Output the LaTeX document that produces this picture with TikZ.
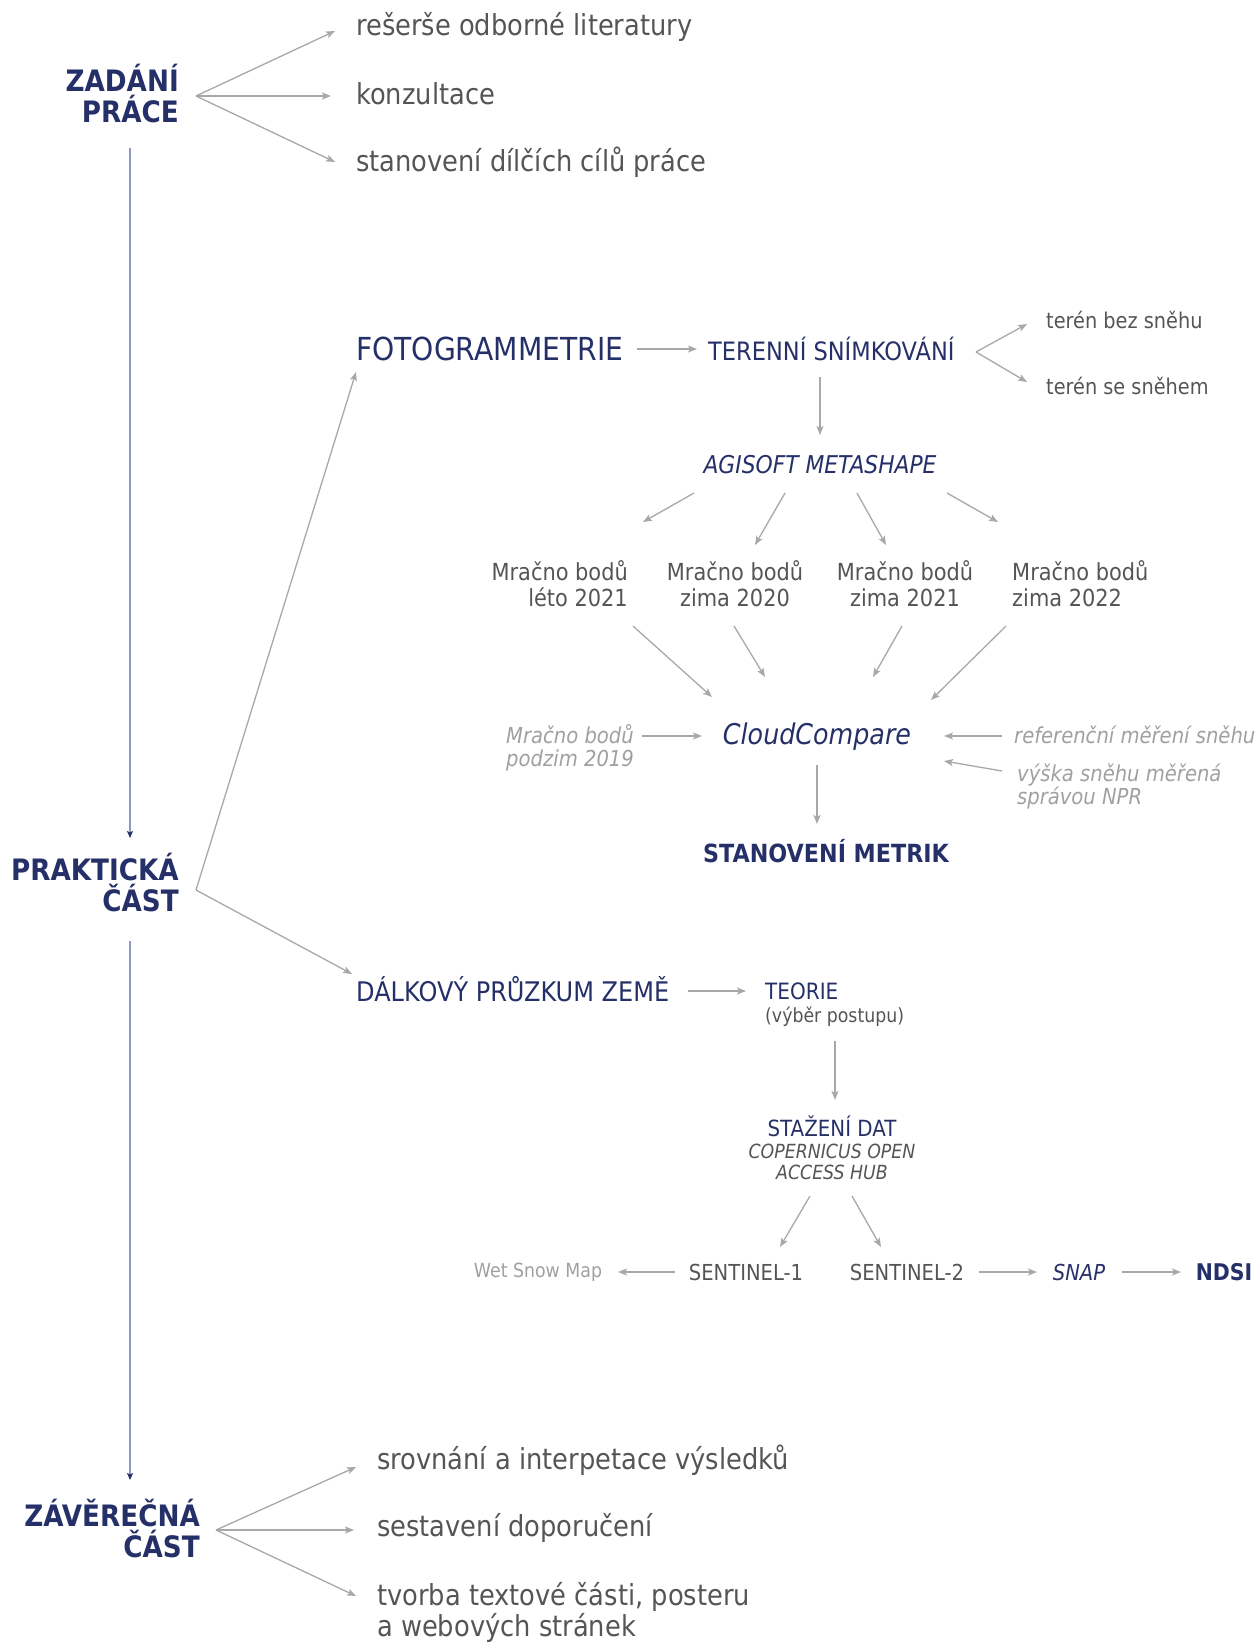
\documentclass[tikz,border=0pt]{standalone}
\usepackage{fontspec}
\setmainfont{DejaVu Sans}[FakeStretch=0.89]
\usetikzlibrary{arrows.meta}

\definecolor{navy}{RGB}{38,48,104}
\definecolor{txtgray}{RGB}{85,85,85}
\definecolor{softgray}{RGB}{160,160,160}
\definecolor{arrgray}{RGB}{168,168,168}
\definecolor{flowblue}{RGB}{140,152,190}

\newcommand{\fsz}[2]{\fontsize{#1}{#2}\selectfont}

\begin{document}
\begin{tikzpicture}[x=1pt, y=-1pt,
    every node/.style={inner sep=0pt},
    phase/.style={font=\bfseries\fsz{29.5}{31}, text=navy, align=right, anchor=east},
    task/.style={font=\fsz{28.9}{31}, text=txtgray, align=left, anchor=west},
    method/.style={text=navy, anchor=west},
    cloud/.style={font=\fsz{23.5}{26}, text=txtgray},
    extra/.style={font=\itshape\fsz{22}{23}, text=softgray, align=left, anchor=west},
    sat/.style={font=\fsz{22}{24}, text=txtgray},
    arr/.style={draw=arrgray, line width=1.3pt, -{Stealth[length=9pt,width=7pt,inset=2pt]}},
    flow/.style={draw=flowblue, line width=1.3pt, -{Stealth[length=7pt,width=6pt,inset=1.5pt,color=navy]}}]
    \useasboundingbox (0,0) rectangle (1256,1642);

    % Phases
    \node[phase] (zadani) at (179,94) {ZADÁNÍ\\PRÁCE};
    \node[phase] (praktika) at (179,883) {PRAKTICKÁ\\ČÁST};
    \node[phase] (zaverec) at (200,1529) {ZÁVĚREČNÁ\\ČÁST};

    % Zadani
    \node[task] (reserse) at (356,27) {rešerše odborné literatury};
    \node[task] (konzult) at (356,94) {konzultace};
    \node[task] (stanov) at (356,162) {stanovení dílčích cílů práce};

    % Fotogrammetrie
    \node[method, font=\fsz{31.7}{34}] (foto) at (356,349) {FOTOGRAMMETRIE};
    \node[method, font=\fsz{25.3}{27}] (terenni) at (708,349) {TERENNÍ SNÍMKOVÁNÍ};
    \node[task, font=\fsz{21.7}{24}] (bezsnehu) at (1046,320) {terén bez sněhu};
    \node[task, font=\fsz{21.7}{24}] (sesnehem) at (1046,386) {terén se sněhem};
    \node[text=navy, font=\itshape\fsz{24.5}{26}] (agisoft) at (820,465) {AGISOFT METASHAPE};
    \node[cloud, align=right, anchor=east] (leto21) at (628,584) {Mračno bodů\\léto 2021};
    \node[cloud, align=center] (zima20) at (735,584) {Mračno bodů\\zima 2020};
    \node[cloud, align=center] (zima21) at (905,584) {Mračno bodů\\zima 2021};
    \node[cloud, align=left, anchor=west] (zima22) at (1012,584) {Mračno bodů\\zima 2022};
    \node[text=navy, font=\itshape\fsz{28.5}{30}] (cc) at (817,737) {CloudCompare};
    \node[extra] (podzim) at (506,748) {Mračno bodů\\podzim 2019};
    \node[extra] (refmer) at (1014,735) {referenční měření sněhu};
    \node[extra] (vyska) at (1017,786) {výška sněhu měřená\\správou NPR};
    \node[text=navy, font=\bfseries\fsz{25}{27}] (metrik) at (826,851) {STANOVENÍ METRIK};

    % Dalkovy pruzkum
    \node[method, font=\fsz{27}{30}] (dalkovy) at (356,989) {DÁLKOVÝ PRŮZKUM ZEMĚ};
    \node[method, font=\fsz{22.5}{23}, align=left] (teorie) at (765,1005)
        {TEORIE\\{\color{txtgray}\fsz{19.5}{23}(výběr postupu)}};
    \node[text=navy, font=\fsz{22.3}{21.5}, align=center] (stazeni) at (832,1148)
        {STAŽENÍ DAT\\{\itshape\color{txtgray}\fsz{19.5}{21.5}COPERNICUS OPEN}\\{\itshape\color{txtgray}\fsz{19.5}{21.5}ACCESS HUB}};
    \node[sat] (s1) at (746,1272) {SENTINEL-1};
    \node[sat] (s2) at (907,1272) {SENTINEL-2};
    \node[font=\fsz{19.5}{22}, text=softgray] (wetsnow) at (538,1272) {Wet Snow Map};
    \node[text=navy, font=\itshape\fsz{22}{24}] (snap) at (1079,1272) {SNAP};
    \node[text=navy, font=\bfseries\fsz{23}{25}] (ndsi) at (1224,1272) {NDSI};

    % Zaverecna cast
    \node[task] (srovnani) at (377,1460) {srovnání a interpetace výsledků};
    \node[task] (sestaveni) at (377,1528) {sestavení doporučení};
    \node[task] (tvorba) at (377,1612) {tvorba textové části, posteru\\a webových stránek};

    % Fan points
    \coordinate (zfan) at (196,96);
    \coordinate (pfan) at (196,890);
    \coordinate (tfan) at (976,352);
    \coordinate (zvfan) at (216,1530);

    % Main flow
    \draw[flow] ([shift={(-49,54)}]zadani.east) -- ([shift={(-49,-45)}]praktika.east);
    \draw[flow] ([shift={(-49,58)}]praktika.east) -- ([shift={(-70,-49)}]zaverec.east);

    % Arrows
    \draw[arr] (zfan) -- ([shift={(-21,4)}]reserse.west);
    \draw[arr] (zfan) -- ([shift={(-25,2)}]konzult.west);
    \draw[arr] (zfan) -- ([shift={(-21,0)}]stanov.west);

    \draw[arr] (pfan) -- ([shift={(0,23)}]foto.west);
    \draw[arr] (pfan) -- ([shift={(-4,-15)}]dalkovy.west);

    \draw[arr] ([shift={(281,0)}]foto.west) -- ([shift={(-11,0)}]terenni.west);
    \draw[arr] (tfan) -- ([shift={(-19,4)}]bezsnehu.west);
    \draw[arr] (tfan) -- ([shift={(-19,-4)}]sesnehem.west);
    \draw[arr] ([shift={(112,28)}]terenni.west) -- ([shift={(0,-30)}]agisoft.center);

    \draw[arr] ([shift={(-126,28)}]agisoft.center) -- ([shift={(15,-62)}]leto21.east);
    \draw[arr] ([shift={(-35,28)}]agisoft.center) -- ([shift={(20,-39)}]zima20.center);
    \draw[arr] ([shift={(37,28)}]agisoft.center) -- ([shift={(-19,-39)}]zima21.center);
    \draw[arr] ([shift={(127,28)}]agisoft.center) -- ([shift={(-14,-62)}]zima22.west);

    \draw[arr] ([shift={(5,42)}]leto21.east) -- ([shift={(-105,-40)}]cc.center);
    \draw[arr] ([shift={(-1,42)}]zima20.center) -- ([shift={(-52,-60)}]cc.center);
    \draw[arr] ([shift={(-3,42)}]zima21.center) -- ([shift={(56,-60)}]cc.center);
    \draw[arr] ([shift={(-6,42)}]zima22.west) -- ([shift={(114,-37)}]cc.center);

    \draw[arr] ([shift={(136,-12)}]podzim.west) -- ([shift={(-115,-1)}]cc.center);
    \draw[arr] ([shift={(-12,1)}]refmer.west) -- ([shift={(127,-1)}]cc.center);
    \draw[arr] ([shift={(-15,-15)}]vyska.west) -- ([shift={(127,24)}]cc.center);
    \draw[arr] ([shift={(0,28)}]cc.center) -- ([shift={(-9,-27)}]metrik.center);

    \draw[arr] ([shift={(332,2)}]dalkovy.west) -- ([shift={(-19,-14)}]teorie.west);
    \draw[arr] ([shift={(70,36)}]teorie.west) -- ([shift={(3,-48)}]stazeni.center);
    \draw[arr] ([shift={(-22,48)}]stazeni.center) -- ([shift={(34,-25)}]s1.center);
    \draw[arr] ([shift={(20,48)}]stazeni.center) -- ([shift={(-26,-25)}]s2.center);
    \draw[arr] ([shift={(-71,0)}]s1.center) -- ([shift={(80,0)}]wetsnow.center);
    \draw[arr] ([shift={(72,0)}]s2.center) -- ([shift={(-42,0)}]snap.center);
    \draw[arr] ([shift={(43,0)}]snap.center) -- ([shift={(-43,0)}]ndsi.center);

    \draw[arr] (zvfan) -- ([shift={(-21,7)}]srovnani.west);
    \draw[arr] (zvfan) -- ([shift={(-23,2)}]sestaveni.west);
    \draw[arr] (zvfan) -- ([shift={(-21,-16)}]tvorba.west);
\end{tikzpicture}
\end{document}
